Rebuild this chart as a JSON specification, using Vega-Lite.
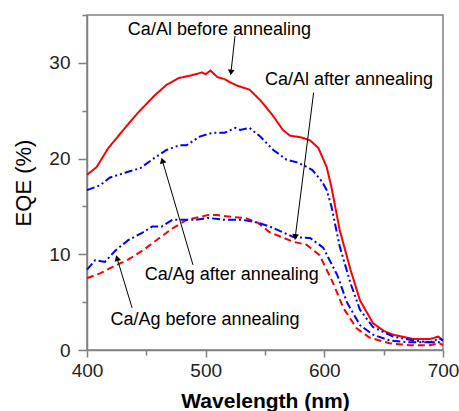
{
  "$schema": "https://vega.github.io/schema/vega-lite/v6.json",
  "width": 356,
  "height": 335,
  "autosize": {"type": "none"},
  "padding": {"left": 87, "top": 15, "right": 16, "bottom": 61},
  "background": "white",
  "config": {
    "view": {"stroke": "#808080", "strokeWidth": 1.5},
    "font": "Liberation Sans"
  },
  "datasets": {
    "curves": [
      {"series": "Ca/Al before", "wavelength": 400, "eqe": 18.3},
      {"series": "Ca/Al before", "wavelength": 408, "eqe": 19.1},
      {"series": "Ca/Al before", "wavelength": 418, "eqe": 21.1},
      {"series": "Ca/Al before", "wavelength": 432, "eqe": 23.2},
      {"series": "Ca/Al before", "wavelength": 443, "eqe": 24.8},
      {"series": "Ca/Al before", "wavelength": 457, "eqe": 26.6},
      {"series": "Ca/Al before", "wavelength": 467, "eqe": 27.7},
      {"series": "Ca/Al before", "wavelength": 477, "eqe": 28.4},
      {"series": "Ca/Al before", "wavelength": 488, "eqe": 28.7},
      {"series": "Ca/Al before", "wavelength": 497, "eqe": 29.0},
      {"series": "Ca/Al before", "wavelength": 500, "eqe": 28.8},
      {"series": "Ca/Al before", "wavelength": 504, "eqe": 29.2},
      {"series": "Ca/Al before", "wavelength": 510, "eqe": 28.5},
      {"series": "Ca/Al before", "wavelength": 516, "eqe": 28.3},
      {"series": "Ca/Al before", "wavelength": 520, "eqe": 28.0},
      {"series": "Ca/Al before", "wavelength": 527, "eqe": 27.6},
      {"series": "Ca/Al before", "wavelength": 537, "eqe": 27.2},
      {"series": "Ca/Al before", "wavelength": 546, "eqe": 26.1},
      {"series": "Ca/Al before", "wavelength": 556, "eqe": 24.6},
      {"series": "Ca/Al before", "wavelength": 565, "eqe": 23.0},
      {"series": "Ca/Al before", "wavelength": 571, "eqe": 22.4},
      {"series": "Ca/Al before", "wavelength": 581, "eqe": 22.2},
      {"series": "Ca/Al before", "wavelength": 588, "eqe": 21.9},
      {"series": "Ca/Al before", "wavelength": 595, "eqe": 21.1},
      {"series": "Ca/Al before", "wavelength": 602, "eqe": 19.1},
      {"series": "Ca/Al before", "wavelength": 606, "eqe": 17.0},
      {"series": "Ca/Al before", "wavelength": 613, "eqe": 12.5},
      {"series": "Ca/Al before", "wavelength": 622, "eqe": 8.4},
      {"series": "Ca/Al before", "wavelength": 630, "eqe": 5.2},
      {"series": "Ca/Al before", "wavelength": 641, "eqe": 2.8},
      {"series": "Ca/Al before", "wavelength": 650, "eqe": 2.0},
      {"series": "Ca/Al before", "wavelength": 658, "eqe": 1.6},
      {"series": "Ca/Al before", "wavelength": 675, "eqe": 1.15},
      {"series": "Ca/Al before", "wavelength": 689, "eqe": 1.15},
      {"series": "Ca/Al before", "wavelength": 696, "eqe": 1.4},
      {"series": "Ca/Al before", "wavelength": 700, "eqe": 1.0},
      {"series": "Ca/Al after", "wavelength": 400, "eqe": 16.7},
      {"series": "Ca/Al after", "wavelength": 411, "eqe": 17.2},
      {"series": "Ca/Al after", "wavelength": 419, "eqe": 18.0},
      {"series": "Ca/Al after", "wavelength": 434, "eqe": 18.6},
      {"series": "Ca/Al after", "wavelength": 445, "eqe": 19.0},
      {"series": "Ca/Al after", "wavelength": 456, "eqe": 20.0},
      {"series": "Ca/Al after", "wavelength": 467, "eqe": 20.9},
      {"series": "Ca/Al after", "wavelength": 478, "eqe": 21.4},
      {"series": "Ca/Al after", "wavelength": 484, "eqe": 21.4},
      {"series": "Ca/Al after", "wavelength": 495, "eqe": 22.3},
      {"series": "Ca/Al after", "wavelength": 506, "eqe": 22.7},
      {"series": "Ca/Al after", "wavelength": 516, "eqe": 22.7},
      {"series": "Ca/Al after", "wavelength": 525, "eqe": 23.2},
      {"series": "Ca/Al after", "wavelength": 529, "eqe": 23.0},
      {"series": "Ca/Al after", "wavelength": 537, "eqe": 23.2},
      {"series": "Ca/Al after", "wavelength": 546, "eqe": 22.3},
      {"series": "Ca/Al after", "wavelength": 557, "eqe": 20.9},
      {"series": "Ca/Al after", "wavelength": 568, "eqe": 19.9},
      {"series": "Ca/Al after", "wavelength": 577, "eqe": 19.6},
      {"series": "Ca/Al after", "wavelength": 584, "eqe": 19.2},
      {"series": "Ca/Al after", "wavelength": 590, "eqe": 18.8},
      {"series": "Ca/Al after", "wavelength": 598, "eqe": 17.6},
      {"series": "Ca/Al after", "wavelength": 602, "eqe": 16.7},
      {"series": "Ca/Al after", "wavelength": 606, "eqe": 15.0},
      {"series": "Ca/Al after", "wavelength": 613, "eqe": 10.8},
      {"series": "Ca/Al after", "wavelength": 622, "eqe": 7.0},
      {"series": "Ca/Al after", "wavelength": 630, "eqe": 4.2},
      {"series": "Ca/Al after", "wavelength": 641, "eqe": 2.4},
      {"series": "Ca/Al after", "wavelength": 658, "eqe": 1.4},
      {"series": "Ca/Al after", "wavelength": 675, "eqe": 1.0},
      {"series": "Ca/Al after", "wavelength": 689, "eqe": 0.8},
      {"series": "Ca/Al after", "wavelength": 697, "eqe": 0.8},
      {"series": "Ca/Al after", "wavelength": 700, "eqe": 0.9},
      {"series": "Ca/Ag before", "wavelength": 400, "eqe": 7.5},
      {"series": "Ca/Ag before", "wavelength": 411, "eqe": 8.0},
      {"series": "Ca/Ag before", "wavelength": 422, "eqe": 8.7},
      {"series": "Ca/Ag before", "wavelength": 434, "eqe": 9.4},
      {"series": "Ca/Ag before", "wavelength": 447, "eqe": 10.4},
      {"series": "Ca/Ag before", "wavelength": 461, "eqe": 11.7},
      {"series": "Ca/Ag before", "wavelength": 472, "eqe": 12.7},
      {"series": "Ca/Ag before", "wavelength": 484, "eqe": 13.6},
      {"series": "Ca/Ag before", "wavelength": 495, "eqe": 13.9},
      {"series": "Ca/Ag before", "wavelength": 502, "eqe": 14.1},
      {"series": "Ca/Ag before", "wavelength": 510, "eqe": 14.1},
      {"series": "Ca/Ag before", "wavelength": 522, "eqe": 13.9},
      {"series": "Ca/Ag before", "wavelength": 533, "eqe": 13.8},
      {"series": "Ca/Ag before", "wavelength": 544, "eqe": 13.3},
      {"series": "Ca/Ag before", "wavelength": 554, "eqe": 12.3},
      {"series": "Ca/Ag before", "wavelength": 574, "eqe": 11.3},
      {"series": "Ca/Ag before", "wavelength": 585, "eqe": 11.0},
      {"series": "Ca/Ag before", "wavelength": 596, "eqe": 9.9},
      {"series": "Ca/Ag before", "wavelength": 607, "eqe": 7.1},
      {"series": "Ca/Ag before", "wavelength": 616, "eqe": 4.4},
      {"series": "Ca/Ag before", "wavelength": 627, "eqe": 2.3},
      {"series": "Ca/Ag before", "wavelength": 638, "eqe": 1.3},
      {"series": "Ca/Ag before", "wavelength": 655, "eqe": 0.7},
      {"series": "Ca/Ag before", "wavelength": 672, "eqe": 0.5},
      {"series": "Ca/Ag before", "wavelength": 689, "eqe": 0.5},
      {"series": "Ca/Ag before", "wavelength": 697, "eqe": 0.7},
      {"series": "Ca/Ag before", "wavelength": 700, "eqe": 0.5},
      {"series": "Ca/Ag after", "wavelength": 400, "eqe": 8.4},
      {"series": "Ca/Ag after", "wavelength": 407, "eqe": 9.4},
      {"series": "Ca/Ag after", "wavelength": 415, "eqe": 9.2},
      {"series": "Ca/Ag after", "wavelength": 424, "eqe": 10.4},
      {"series": "Ca/Ag after", "wavelength": 435, "eqe": 11.5},
      {"series": "Ca/Ag after", "wavelength": 446, "eqe": 12.2},
      {"series": "Ca/Ag after", "wavelength": 455, "eqe": 12.9},
      {"series": "Ca/Ag after", "wavelength": 463, "eqe": 12.9},
      {"series": "Ca/Ag after", "wavelength": 472, "eqe": 13.6},
      {"series": "Ca/Ag after", "wavelength": 483, "eqe": 13.6},
      {"series": "Ca/Ag after", "wavelength": 492, "eqe": 13.6},
      {"series": "Ca/Ag after", "wavelength": 502, "eqe": 13.8},
      {"series": "Ca/Ag after", "wavelength": 516, "eqe": 13.6},
      {"series": "Ca/Ag after", "wavelength": 531, "eqe": 13.6},
      {"series": "Ca/Ag after", "wavelength": 544, "eqe": 13.3},
      {"series": "Ca/Ag after", "wavelength": 554, "eqe": 12.9},
      {"series": "Ca/Ag after", "wavelength": 574, "eqe": 11.8},
      {"series": "Ca/Ag after", "wavelength": 588, "eqe": 11.7},
      {"series": "Ca/Ag after", "wavelength": 599, "eqe": 10.7},
      {"series": "Ca/Ag after", "wavelength": 611, "eqe": 7.8},
      {"series": "Ca/Ag after", "wavelength": 619, "eqe": 5.0},
      {"series": "Ca/Ag after", "wavelength": 630, "eqe": 2.6},
      {"series": "Ca/Ag after", "wavelength": 641, "eqe": 1.6},
      {"series": "Ca/Ag after", "wavelength": 655, "eqe": 1.0},
      {"series": "Ca/Ag after", "wavelength": 672, "eqe": 0.8},
      {"series": "Ca/Ag after", "wavelength": 689, "eqe": 0.8},
      {"series": "Ca/Ag after", "wavelength": 697, "eqe": 1.2},
      {"series": "Ca/Ag after", "wavelength": 700, "eqe": 1.0}
    ],
    "notes": [
      {"label": "Ca/Al before annealing", "tx": 511.6, "ty": 33.4, "x0": 524.7, "y0": 32.8, "x1": 521.3, "y1": 29.0},
      {"label": "Ca/Al after annealing", "tx": 620.8, "ty": 28.2, "x0": 591, "y0": 26.9, "x1": 575.5, "y1": 11.8},
      {"label": "Ca/Ag after annealing", "tx": 522, "ty": 7.8, "x0": 489.3, "y0": 8.9, "x1": 463.5, "y1": 19.8},
      {"label": "Ca/Ag before annealing", "tx": 499.4, "ty": 3.1, "x0": 438, "y0": 4.4, "x1": 425.3, "y1": 9.6}
    ]
  },
  "layer": [
    {
      "data": {"name": "curves"},
      "mark": {"type": "line", "strokeWidth": 2},
      "encoding": {
        "x": {
          "field": "wavelength",
          "type": "quantitative",
          "scale": {"domain": [400, 700], "nice": false},
          "axis": {
            "values": [400, 450, 500, 550, 600, 650, 700],
            "labelExpr": "datum.value % 100 === 0 ? datum.label : ''",
            "grid": false,
            "domainColor": "#808080",
            "domainWidth": 1.5,
            "tickColor": "#808080",
            "tickWidth": 1.5,
            "tickSize": {"condition": {"test": "datum.value % 100 === 0", "value": 7}, "value": 5},
            "labelFontSize": 19,
            "labelColor": "#222222",
            "labelPadding": 4,
            "labelFlush": false,
            "title": "Wavelength (nm)",
            "titleFontSize": 21,
            "titleFontWeight": "bold",
            "titleColor": "#000000",
            "titlePadding": 10
          }
        },
        "y": {
          "field": "eqe",
          "type": "quantitative",
          "scale": {"domain": [0, 35], "nice": false},
          "axis": {
            "values": [0, 5, 10, 15, 20, 25, 30, 35],
            "labelExpr": "datum.value % 10 === 0 ? datum.label : ''",
            "grid": false,
            "domainColor": "#808080",
            "domainWidth": 1.5,
            "tickColor": "#808080",
            "tickWidth": 1.5,
            "tickSize": {"condition": {"test": "datum.value % 10 === 0", "value": 9}, "value": 5},
            "labelFontSize": 19,
            "labelColor": "#222222",
            "labelPadding": 8,
            "labelFlush": false,
            "title": "EQE (%)",
            "titleFontSize": 22,
            "titleFontWeight": "normal",
            "titleColor": "#000000",
            "titlePadding": 13
          }
        },
        "color": {
          "field": "series",
          "type": "nominal",
          "scale": {"domain": ["Ca/Al before", "Ca/Al after", "Ca/Ag before", "Ca/Ag after"], "range": ["#ff0000", "#0000ff", "#ff0000", "#0000ff"]},
          "legend": null
        },
        "strokeDash": {
          "field": "series",
          "type": "nominal",
          "scale": {"domain": ["Ca/Al before", "Ca/Al after", "Ca/Ag before", "Ca/Ag after"], "range": [[1, 0], [8, 3, 2, 3, 2, 3], [7, 4], [8, 3, 2, 3]]},
          "legend": null
        }
      }
    },
    {
      "data": {"name": "notes"},
      "mark": {"type": "rule", "color": "#000000", "strokeWidth": 1},
      "encoding": {
        "x": {"field": "x0", "type": "quantitative"},
        "y": {"field": "y0", "type": "quantitative"},
        "x2": {"field": "x1"},
        "y2": {"field": "y1"}
      }
    },
    {
      "data": {"name": "notes"},
      "mark": {
        "type": "point",
        "shape": "triangle-up",
        "filled": true,
        "color": "#000000",
        "opacity": 1,
        "size": 45,
        "angle": {"expr": "atan2(scale('x', datum.x1) - scale('x', datum.x0), scale('y', datum.y0) - scale('y', datum.y1)) * 180 / PI"}
      },
      "encoding": {
        "x": {"field": "x1", "type": "quantitative"},
        "y": {"field": "y1", "type": "quantitative"}
      }
    },
    {
      "data": {"name": "notes"},
      "mark": {"type": "text", "fontSize": 18, "font": "Liberation Sans", "color": "#000000", "baseline": "middle", "align": "center"},
      "encoding": {
        "x": {"field": "tx", "type": "quantitative"},
        "y": {"field": "ty", "type": "quantitative"},
        "text": {"field": "label"}
      }
    }
  ]
}
